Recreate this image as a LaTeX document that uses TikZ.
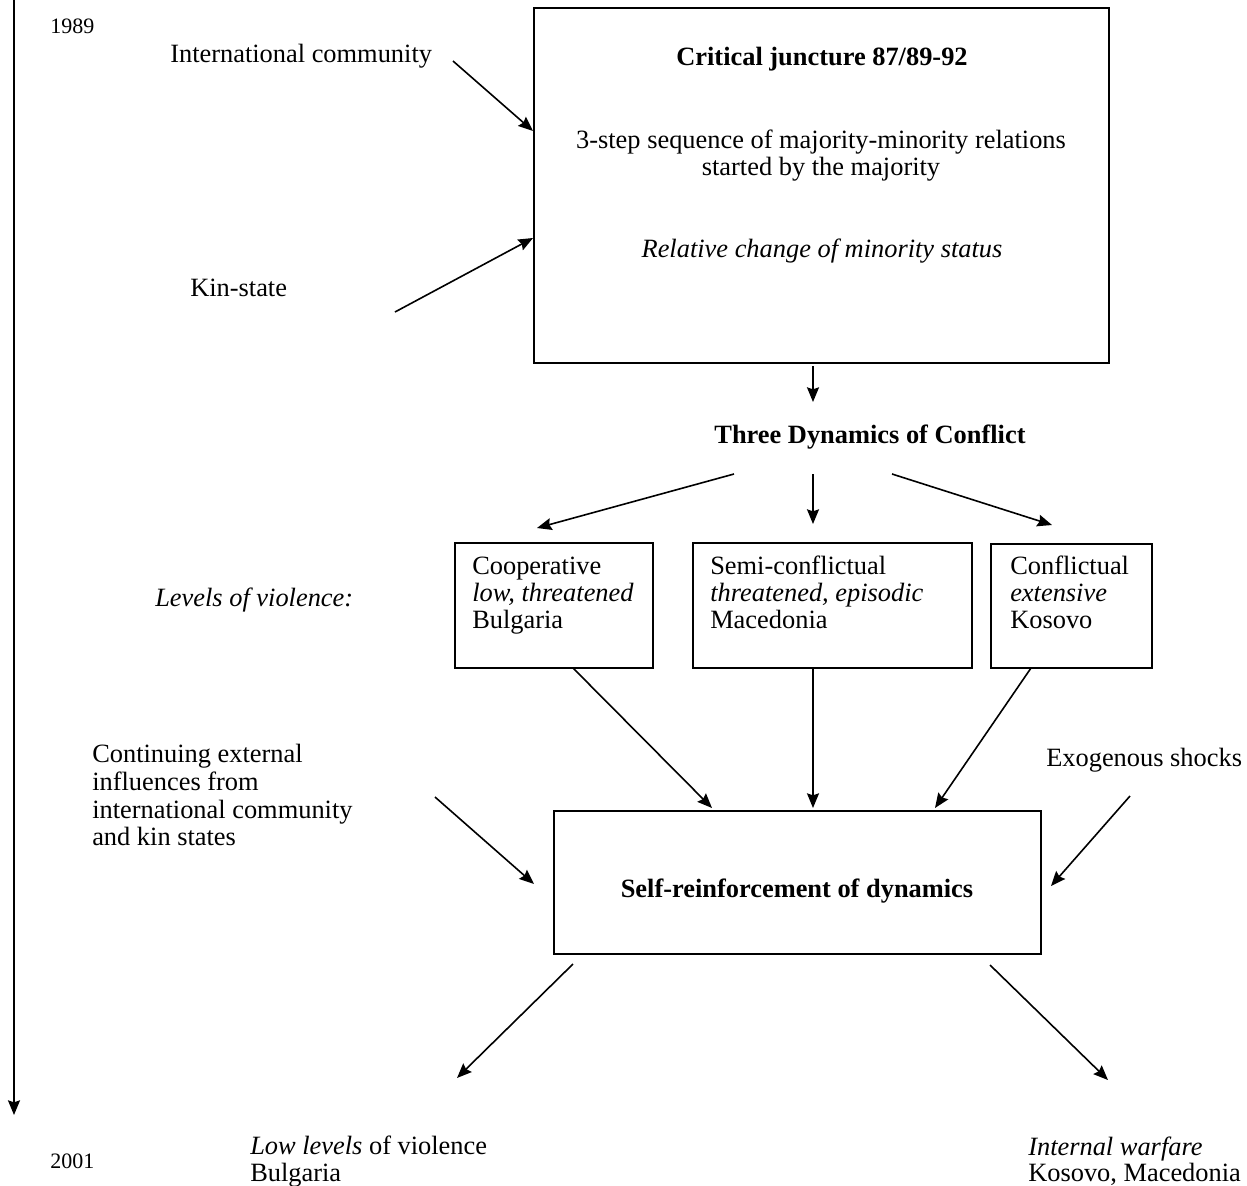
\documentclass[tikz,border=0pt]{standalone}
\usepackage{fontspec}
\setmainfont{Liberation Serif}
\usetikzlibrary{arrows.meta}
\begin{document}
\begin{tikzpicture}[x=0.75pt,y=-0.75pt,
  txt/.style={inner sep=0pt, font=\fontsize{19.8}{20.6}\selectfont},
  btxt/.style={inner sep=0pt, font=\fontsize{19.8}{20.6}\selectfont\bfseries},
  itxt/.style={inner sep=0pt, font=\fontsize{19.8}{20.6}\selectfont\itshape},
  yr/.style={inner sep=0pt, font=\fontsize{16.5}{18}\selectfont},
  box/.style={draw, line width=1.4pt, inner sep=0pt},
  arr/.style={line width=1.2pt, -{Stealth[length=11pt,width=9pt,inset=1.5pt]}}]
\useasboundingbox (0,0) rectangle (1247,1186);

% timeline
\node[yr, anchor=base west] (y89) at (50,33) {1989};
\node[yr, anchor=base west] (y01) at (50,1168) {2001};
\coordinate (tl0) at (14,0);
\coordinate (tl1) at (14,1115);
\draw[arr] (tl0) -- (tl1);

% boxes
\node[box, minimum width={575*0.75pt}, minimum height={355*0.75pt}] (crit) at (821.5,185.5) {};
\node[box, minimum width={198*0.75pt}, minimum height={125*0.75pt}] (coop) at (554,605.5) {};
\node[box, minimum width={279*0.75pt}, minimum height={125*0.75pt}] (semi) at (832.5,605.5) {};
\node[box, minimum width={161*0.75pt}, minimum height={124*0.75pt}] (conf) at (1071.5,606) {};
\node[box, minimum width={487*0.75pt}, minimum height={143*0.75pt}] (self) at (797.5,882.5) {};

% texts
\node[txt, anchor=base west] (intl) at (170,62) {International community};
\node[txt, anchor=base west] (kin) at (190,296) {Kin-state};
\node[btxt, anchor=base] (critT) at (822,65) {Critical juncture 87/89-92};
\node[txt, anchor=base] (seq1) at (821,148) {3-step sequence of majority-minority relations};
\node[txt, anchor=base] (seq2) at (821,175) {started by the majority};
\node[itxt, anchor=base] (rel) at (822,257) {Relative change of minority status};
\node[btxt, anchor=base] (three) at (870,443) {Three Dynamics of Conflict};

\node[itxt, anchor=base west] (lev) at (155,606) {Levels of violence:};

\node[txt, anchor=base west] (coop1) at (472,574) {Cooperative};
\node[itxt, anchor=base west] (coop2) at (472,601) {low, threatened};
\node[txt, anchor=base west] (coop3) at (472,628) {Bulgaria};
\node[txt, anchor=base west] (semi1) at (710,574) {Semi-conflictual};
\node[itxt, anchor=base west] (semi2) at (710,601) {threatened, episodic};
\node[txt, anchor=base west] (semi3) at (710,628) {Macedonia};
\node[txt, anchor=base west] (conf1) at (1010,574) {Conflictual};
\node[itxt, anchor=base west] (conf2) at (1010,601) {extensive};
\node[txt, anchor=base west] (conf3) at (1010,628) {Kosovo};

\node[txt, anchor=base west] (cont1) at (92,762) {Continuing external};
\node[txt, anchor=base west] (cont2) at (92,790) {influences from};
\node[txt, anchor=base west] (cont3) at (92,818) {international community};
\node[txt, anchor=base west] (cont4) at (92,845) {and kin states};
\node[txt, anchor=base west] (exo) at (1046,766) {Exogenous shocks};

\node[btxt, anchor=base] (selfT) at (797,897) {Self-reinforcement of dynamics};

\node[txt, anchor=base west] (low1) at (250,1154) {\textit{Low levels} of violence};
\node[txt, anchor=base west] (low2) at (250,1181) {Bulgaria};
\node[itxt, anchor=base west] (int1) at (1028,1155) {Internal warfare};
\node[txt, anchor=base west] (int2) at (1028,1181) {Kosovo, Macedonia};

% arrow end points
\coordinate (aIs) at (453,61);   \coordinate (aIe) at (533,131);
\coordinate (aKs) at (395,312);  \coordinate (aKe) at (533,238);
\coordinate (aCs) at (813,366);  \coordinate (aCe) at (813,402);
\coordinate (aT1s) at (734,474); \coordinate (aT1e) at (537,528);
\coordinate (aT2s) at (813,474); \coordinate (aT2e) at (813,524);
\coordinate (aT3s) at (892,474); \coordinate (aT3e) at (1052,525);
\coordinate (aB1s) at (573,668); \coordinate (aB1e) at (712,808);
\coordinate (aB2s) at (813,668); \coordinate (aB2e) at (813,808);
\coordinate (aB3s) at (1031,668);\coordinate (aB3e) at (935,808);
\coordinate (aXs) at (435,797);  \coordinate (aXe) at (534,884);
\coordinate (aEs) at (1130,796); \coordinate (aEe) at (1051,886);
\coordinate (aLs) at (573,964);  \coordinate (aLe) at (457,1078);
\coordinate (aRs) at (990,965);  \coordinate (aRe) at (1108,1080);

\draw[arr] (aIs) -- (aIe);
\draw[arr] (aKs) -- (aKe);
\draw[arr] (aCs) -- (aCe);
\draw[arr] (aT1s) -- (aT1e);
\draw[arr] (aT2s) -- (aT2e);
\draw[arr] (aT3s) -- (aT3e);
\draw[arr] (aB1s) -- (aB1e);
\draw[arr] (aB2s) -- (aB2e);
\draw[arr] (aB3s) -- (aB3e);
\draw[arr] (aXs) -- (aXe);
\draw[arr] (aEs) -- (aEe);
\draw[arr] (aLs) -- (aLe);
\draw[arr] (aRs) -- (aRe);
\end{tikzpicture}
\end{document}
